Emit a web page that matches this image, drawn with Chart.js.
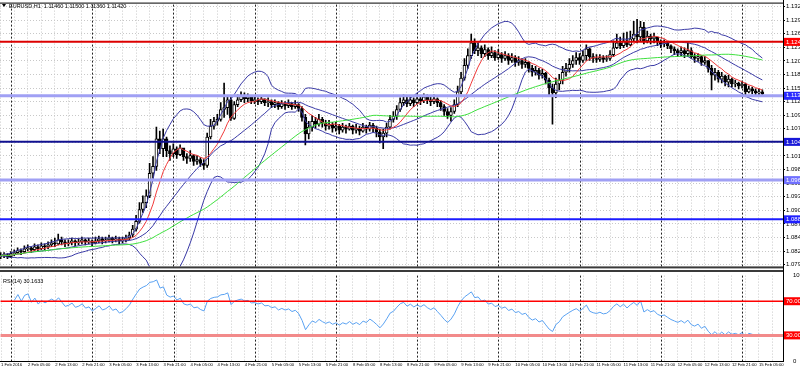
<!DOCTYPE html>
<html><head><meta charset="utf-8">
<script src="https://cdn.jsdelivr.net/npm/chart.js@4.4.0/dist/chart.umd.min.js"></script>
<style>
html,body{margin:0;padding:0;background:#fff;width:800px;height:370px;overflow:hidden}
#c1{position:absolute;left:0;top:0}
#c2{position:absolute;left:0;top:270px}
</style></head><body>
<canvas id="c1" width="800" height="271"></canvas>
<canvas id="c2" width="800" height="100"></canvas>
<script>
// ---- data (prices stored as pips above BASE) ----
const SYMBOL = 'EURUSD,H1';
const BASE = 1.08;
const FIRST_OPEN_PIPS = 10;
const closePips = [
12,14,10,16,18,22,20,26,28,24, 30,26,32,30,34,38,36,44,40,36,
38,42,38,40,44,40,42,38,42,46, 42,44,48,44,46,42,44,48,54,66,
82,106,120,134,180,194,250,230,250,226, 220,230,218,232,214,210,216,204,208,200,
196,254,276,286,290,310,314,330,292,320, 330,338,332,336,328,330,326,332,324,326,
320,324,316,322,318,322,316,320,312,294, 260,274,286,280,290,282,276,280,272,276,
268,274,270,276,268,272,266,274,270,278, 272,264,254,262,274,290,296,310,324,330,
322,330,324,332,328,336,330,326,332,324, 316,306,298,306,320,346,374,400,420,446,
430,436,424,432,420,426,416,422,414,420, 410,416,406,410,402,406,394,386,390,380,
384,370,354,344,362,370,386,394,402,410, 416,410,420,434,418,414,412,416,412,414,
422,436,446,440,450,442,454,464,458,478, 450,460,454,458,448,444,446,440,434,430,
426,430,424,430,418,414,418,406,410,394, 380,386,372,378,366,372,362,364,358,362,
346,352,348,344,346,342];
const highPips = [
18,18,16,20,24,28,26,32,34,30, 36,34,38,36,40,44,48,56,50,44,
44,48,44,46,50,46,48,44,50,52, 50,50,54,50,52,50,50,54,60,74,
94,120,134,146,200,214,274,266,270,254, 236,240,234,238,230,220,226,218,216,212,
208,262,290,294,300,324,364,336,336,326, 340,346,344,342,338,336,334,338,332,334,
330,330,326,328,326,330,324,328,322,316, 300,286,298,294,300,294,288,288,284,284,
280,282,278,282,278,280,276,282,278,284, 282,276,270,270,282,298,306,318,334,340,
336,338,334,340,338,342,340,336,340,334, 328,320,312,314,330,358,386,414,434,464,
454,446,440,442,436,438,430,432,426,428, 424,424,420,418,414,414,408,400,398,394,
392,386,374,362,374,382,398,404,414,420, 426,424,430,442,436,424,422,422,420,420,
430,450,464,458,466,468,470,490,494,490, 488,470,464,466,458,452,452,448,442,438,
434,438,436,446,436,424,424,420,418,410, 400,394,390,386,380,380,374,370,366,368,
364,358,356,352,352,350];
const lowPips = [
6,8,6,8,12,16,14,18,22,18, 22,20,24,24,26,30,30,34,34,30,
32,34,32,34,36,34,36,32,36,38, 36,38,40,38,40,36,38,40,44,50,
62,78,100,110,130,170,186,220,214,214, 206,214,210,216,206,200,204,196,198,194,
188,192,250,270,278,286,294,300,288,290, 316,326,324,326,322,322,320,322,318,316,
314,314,310,312,310,314,310,312,306,286, 238,250,266,272,276,274,268,270,264,266,
260,264,262,268,260,262,258,264,262,266, 264,254,242,230,254,270,284,290,306,318,
316,318,316,322,320,324,322,318,322,316, 308,298,292,286,302,316,342,370,394,414,
424,420,416,418,412,416,410,412,406,410, 402,406,398,400,394,396,386,378,380,372,
374,362,340,280,334,350,362,378,386,396, 402,402,406,410,410,406,406,408,406,408,
410,418,434,434,436,438,440,450,446,450, 444,446,444,446,440,436,438,434,426,422,
418,420,416,418,414,406,408,400,402,386, 350,370,366,364,358,356,356,356,352,354,
338,344,342,338,338,336];
const timeLabels = ["1 Feb 2016","2 Feb 05:00","2 Feb 13:00","2 Feb 21:00","3 Feb 05:00","3 Feb 13:00","3 Feb 21:00","4 Feb 05:00","4 Feb 13:00","4 Feb 21:00","5 Feb 05:00","5 Feb 13:00","5 Feb 21:00","8 Feb 05:00","8 Feb 13:00","8 Feb 21:00","9 Feb 05:00","9 Feb 13:00","9 Feb 21:00","10 Feb 05:00","10 Feb 13:00","10 Feb 21:00","11 Feb 05:00","11 Feb 13:00","11 Feb 21:00","12 Feb 05:00","12 Feb 13:00","12 Feb 21:00","15 Feb 05:00"];
const priceTicks = [1.13200,1.12923,1.12646,1.12369,1.12092,1.11815,1.11538,1.11261,1.10984,1.10707,1.10430,1.10153,1.09876,1.09599,1.09322,1.09045,1.08768,1.08491,1.08214,1.07937];
const levelPrices = [1.1248, 1.1138, 1.1044, 1.0966, 1.0886];
const levelColors = ['#dd0000', '#a0a0f4', '#101090', '#a0a0f4', '#1c1cff'];
const levelWidths = [2, 3, 2, 3, 2];
const levelBoxColors = ['#ff0000', '#2a2aff', '#1818d8', '#7070ff', '#2020ff'];
const rsiLevels = [70, 30];
const daySeparatorBars = [3, 27, 51, 75, 99, 123, 147, 171, 195, 219];

// ---- derived ----
const toPrice = p => +(BASE + p / 10000).toFixed(4);
const closes = closePips.map(toPrice);
const highs = highPips.map(toPrice);
const lows = lowPips.map(toPrice);
const opens = closes.map((c, i) => i === 0 ? toPrice(FIRST_OPEN_PIPS) : closes[i - 1]);
const N = closes.length;

function sma(n, i) { const s = Math.max(0, i - n + 1); let t = 0; for (let k = s; k <= i; k++) t += closes[k]; return t / (i - s + 1); }
function sd(n, i, m) { const s = Math.max(0, i - n + 1); let t = 0; for (let k = s; k <= i; k++) t += (closes[k] - m) ** 2; return Math.sqrt(t / (i - s + 1)); }
const bbMid = [], bbUp = [], bbLo = [], maFast = [], maSlow = [];
for (let i = 0; i < N; i++) {
  const m = sma(20, i), d = sd(20, i, m);
  bbMid.push({x: i, y: m}); bbUp.push({x: i, y: m + 2 * d}); bbLo.push({x: i, y: m - 2 * d});
  maFast.push({x: i, y: sma(8, i)}); maSlow.push({x: i, y: sma(50, i)});
}
const rsi = []; let ag = 0, al = 0;
for (let i = 0; i < N; i++) {
  if (i === 0) { rsi.push({x: 0, y: null}); continue; }
  const ch = closes[i] - closes[i - 1], g = Math.max(ch, 0), l = Math.max(-ch, 0);
  if (i <= 14) { ag = (ag * (i - 1) + g) / i; al = (al * (i - 1) + l) / i; }
  else { ag = (ag * 13 + g) / 14; al = (al * 13 + l) / 14; }
  const v = al === 0 ? 100 : 100 - 100 / (1 + ag / al);
  rsi.push({x: i, y: i < 4 ? null : v});
}

const xMin = -0.2, xMax = 231.1;
const gridBars = []; for (let v = 0; v < xMax; v += 4) gridBars.push(v);
const GRID = '#c8c8c8';
const FONT = 'Liberation Sans';

function drawSeparators(chart) {
  const {ctx, chartArea: a, scales: {x}} = chart;
  ctx.save(); ctx.strokeStyle = '#222'; ctx.lineWidth = 1; ctx.setLineDash([2, 2]);
  daySeparatorBars.forEach(b => {
    const px = Math.round(x.getPixelForValue(b)) + 0.5;
    ctx.beginPath(); ctx.moveTo(px, a.top); ctx.lineTo(px, a.bottom); ctx.stroke();
  });
  ctx.restore();
}

const mainOverlay = {
  id: 'mainOverlay',
  beforeDatasetsDraw(chart) { drawSeparators(chart); },
  afterDraw(chart) {
    const {ctx, chartArea: a, scales: {y}} = chart;
    ctx.save();
    ctx.strokeStyle = '#000'; ctx.lineWidth = 1;
    ctx.beginPath(); ctx.moveTo(0, a.top - 1.5); ctx.lineTo(a.right, a.top - 1.5); ctx.stroke();
    ctx.beginPath(); ctx.moveTo(a.right + 0.5, 0); ctx.lineTo(a.right + 0.5, chart.height); ctx.stroke();
    ctx.fillStyle = '#3a3a3a'; ctx.fillRect(0, a.bottom, a.right, 2);
    ctx.textBaseline = 'middle'; ctx.font = '6px "' + FONT + '"';
    levelPrices.forEach((v, i) => {
      const py = y.getPixelForValue(v);
      ctx.fillStyle = levelBoxColors[i]; ctx.fillRect(a.right + 1, py - 4, 18, 8);
      ctx.fillStyle = '#fff'; ctx.fillText(v.toFixed(5), a.right + 3, py);
    });
    const L = N - 1;
    ctx.fillStyle = '#000'; ctx.font = '5.5px "' + FONT + '"';
    ctx.beginPath(); ctx.moveTo(2, 4); ctx.lineTo(6, 4); ctx.lineTo(4, 7); ctx.closePath(); ctx.fill();
    ctx.fillText(SYMBOL + '  ' + opens[L].toFixed(5) + ' ' + highs[L].toFixed(5) + ' ' + lows[L].toFixed(5) + ' ' + closes[L].toFixed(5), 9, 6);
    ctx.restore();
  }
};

const rsiOverlay = {
  id: 'rsiOverlay',
  beforeDatasetsDraw(chart) { drawSeparators(chart); },
  afterDraw(chart) {
    const {ctx, chartArea: a, scales: {y}} = chart;
    ctx.save();
    ctx.strokeStyle = '#000'; ctx.lineWidth = 1;
    ctx.beginPath(); ctx.moveTo(a.right + 0.5, 0); ctx.lineTo(a.right + 0.5, a.bottom + 1); ctx.stroke();
    ctx.beginPath(); ctx.moveTo(0, a.bottom + 0.5); ctx.lineTo(a.right, a.bottom + 0.5); ctx.stroke();
    ctx.fillStyle = '#3a3a3a'; ctx.fillRect(0, 0, a.right, 2);
    ctx.textBaseline = 'middle'; ctx.font = '6px "' + FONT + '"';
    rsiLevels.forEach(v => {
      const py = y.getPixelForValue(v);
      ctx.fillStyle = '#ff0000'; ctx.fillRect(a.right + 1, py - 4, 18, 8);
      ctx.fillStyle = '#fff'; ctx.fillText(v.toFixed(4), a.right + 3, py);
    });
    ctx.fillStyle = '#000'; ctx.font = '5.5px "' + FONT + '"';
    ctx.fillText('RSI(14) ' + rsi[N - 1].y.toFixed(4), 3, a.top + 6);
    ctx.restore();
  }
};

const lineDs = (data, color, width, order) => ({type: 'line', data, borderColor: color, borderWidth: width, pointRadius: 0, tension: 0, fill: false, order});

const mainDatasets = [
  {type: 'bar', data: closes.map((c, i) => ({x: i, y: [lows[i], highs[i]]})), backgroundColor: '#000', barThickness: 1, grouped: false, order: 5},
  {type: 'bar', data: closes.map((c, i) => ({x: i, y: [opens[i], c]})),
   backgroundColor: closes.map((c, i) => c >= opens[i] ? '#fff' : '#000'),
   borderColor: '#000', borderWidth: 1, borderSkipped: false, barThickness: 3, minBarLength: 1, grouped: false, order: 4},
  lineDs(bbUp, '#3a3aa6', 1, 2), lineDs(bbMid, '#3a3aa6', 1, 2), lineDs(bbLo, '#3a3aa6', 1, 2),
  lineDs(maSlow, '#3ee03e', 1, 1), lineDs(maFast, '#f03a3a', 1, 1),
  ...levelPrices.map((v, i) => lineDs([{x: xMin, y: v}, {x: xMax, y: v}], levelColors[i], levelWidths[i], 0))
];

new Chart(document.getElementById('c1'), {
  type: 'bar',
  data: {datasets: mainDatasets},
  options: {
    responsive: false, animation: false, devicePixelRatio: 1,
    layout: {padding: {top: 3, left: 0, right: 0, bottom: 1}},
    plugins: {legend: {display: false}, tooltip: {enabled: false}},
    scales: {
      x: {type: 'linear', min: xMin, max: xMax, offset: false,
        afterBuildTicks: s => { s.ticks = gridBars.map(v => ({value: v})); },
        afterFit: s => { s.height = 0; },
        ticks: {display: false}, grid: {color: GRID, drawTicks: false, offset: false},
        border: {display: false, dash: [1, 2]}},
      y: {type: 'linear', position: 'right', min: 1.0790, max: 1.1324,
        afterBuildTicks: s => { s.ticks = priceTicks.map(v => ({value: v})); },
        afterFit: s => { s.width = 17; },
        ticks: {font: {size: 6, family: FONT}, color: '#000', padding: 1, callback: v => v.toFixed(5)},
        grid: {color: GRID, drawTicks: true, tickLength: 2, tickColor: '#000'},
        border: {display: false, dash: [1, 2]}}
    }
  },
  plugins: [mainOverlay]
});

new Chart(document.getElementById('c2'), {
  type: 'line',
  data: {datasets: [
    lineDs(rsi, '#5aa2f2', 1, 1),
    lineDs([{x: xMin, y: rsiLevels[0]}, {x: xMax, y: rsiLevels[0]}], '#ff0000', 1.5, 0),
    lineDs([{x: xMin, y: rsiLevels[1]}, {x: xMax, y: rsiLevels[1]}], '#f28a8a', 3, 0)
  ]},
  options: {
    responsive: false, animation: false, devicePixelRatio: 1,
    layout: {padding: {top: 1, left: 0, right: 0, bottom: 0}},
    plugins: {legend: {display: false}, tooltip: {enabled: false}},
    scales: {
      x: {type: 'linear', min: xMin, max: xMax, offset: false,
        afterBuildTicks: s => { s.ticks = gridBars.map(v => ({value: v})); },
        afterFit: s => { s.height = 9; },
        ticks: {autoSkip: false, maxRotation: 0, align: 'start', padding: 1, font: {size: 4.2, family: FONT}, color: '#000',
          callback: v => (v % 8 === 0 && timeLabels[v / 8]) ? timeLabels[v / 8] : ''},
        grid: {color: GRID, drawTicks: false, offset: false},
        border: {display: false, dash: [1, 2]}},
      y: {type: 'linear', position: 'right', min: 0, max: 100,
        afterBuildTicks: s => { s.ticks = [{value: 100}, {value: 0}]; },
        afterFit: s => { s.width = 17; },
        ticks: {font: {size: 6, family: FONT}, color: '#000', padding: 2},
        grid: {display: false}, border: {display: false}}
    }
  },
  plugins: [rsiOverlay]
});
</script>
</body></html>
